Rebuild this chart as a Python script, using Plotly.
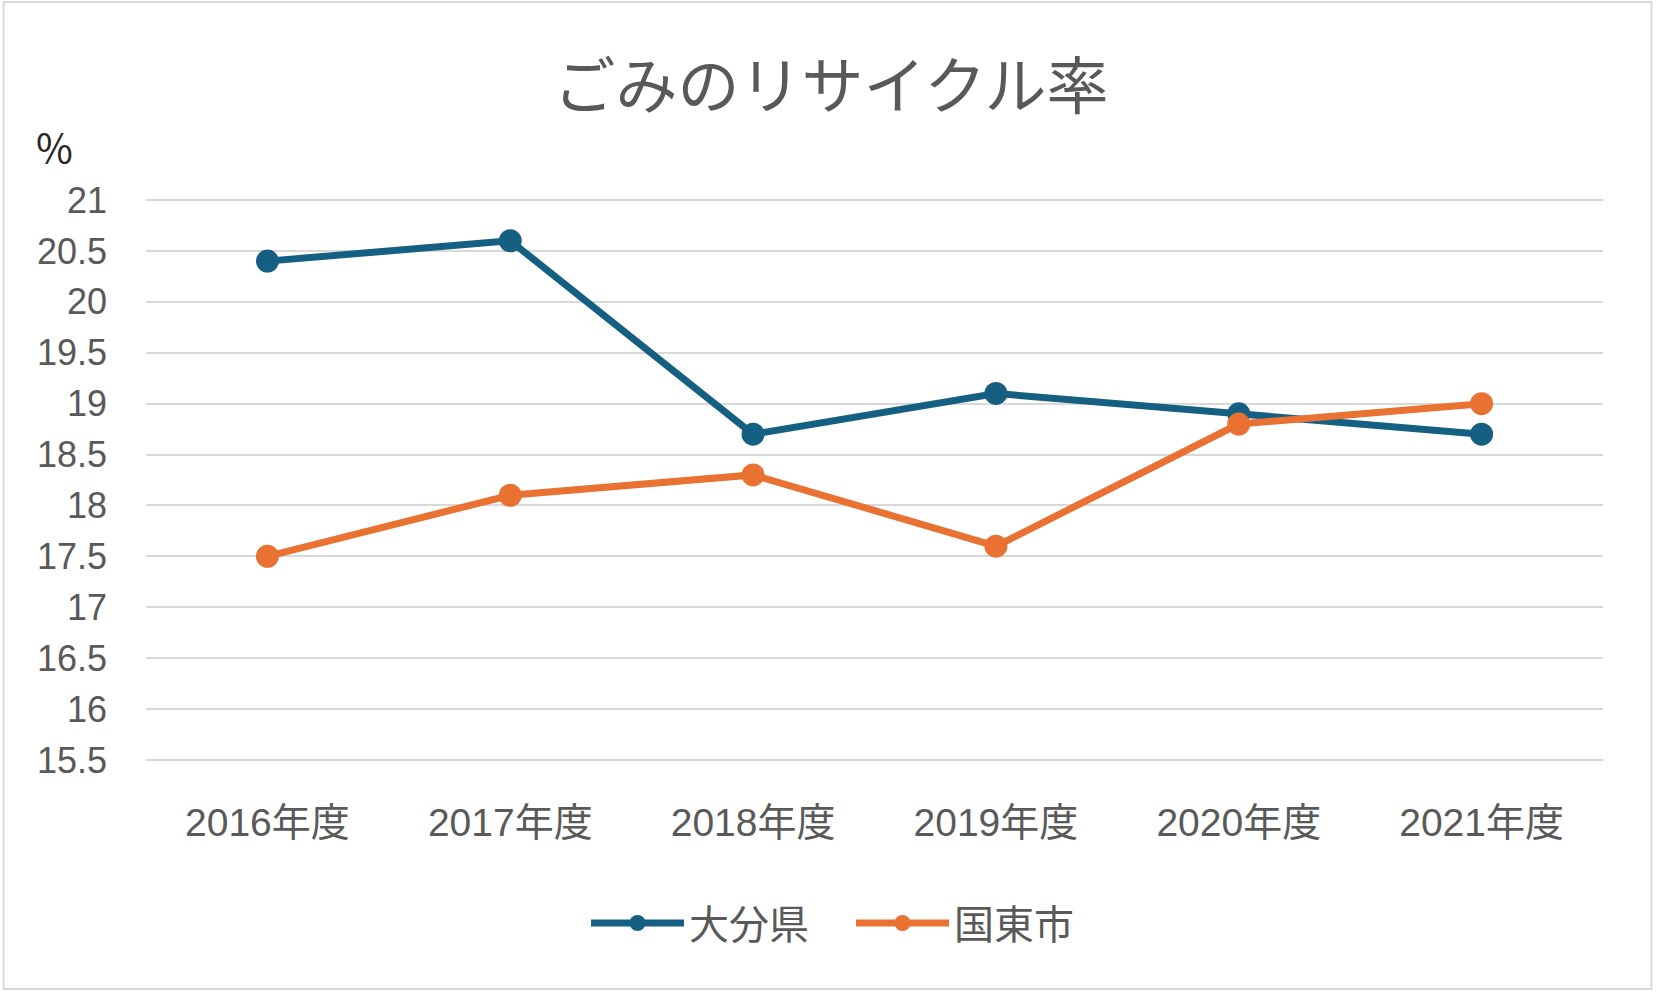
import plotly.graph_objects as go

categories = ["2016年度", "2017年度", "2018年度", "2019年度", "2020年度", "2021年度"]
oita = [20.4, 20.6, 18.7, 19.1, 18.9, 18.7]
kunisaki = [17.5, 18.1, 18.3, 17.6, 18.8, 19.0]
y_ticks = [15.5, 16, 16.5, 17, 17.5, 18, 18.5, 19, 19.5, 20, 20.5, 21]

BLUE = "#156082"
ORANGE = "#E97132"
TXT = "#595959"
FONT = "Liberation Sans, Noto Sans CJK JP"

fig = go.Figure()
fig.add_trace(go.Scatter(x=categories, y=oita, name="大分県", mode="lines+markers",
                         line=dict(color=BLUE, width=7), marker=dict(size=23, color=BLUE)))
fig.add_trace(go.Scatter(x=categories, y=kunisaki, name="国東市", mode="lines+markers",
                         line=dict(color=ORANGE, width=7), marker=dict(size=23, color=ORANGE)))

L, R, T, B = 145.5, 52.5, 198, 231
W, H = 1656, 993
pw, ph = W - L - R, H - T - B

fig.update_layout(
    width=W, height=H,
    margin=dict(l=L, r=R, t=T, b=B, autoexpand=False),
    paper_bgcolor="white", plot_bgcolor="white",
    font=dict(family=FONT, color=TXT, size=30),
    title=dict(text="ごみのリサイクル率", x=831 / W, xanchor="center",
               y=1 - 87 / H, yanchor="middle", yref="container",
               font=dict(family="Noto Sans CJK JP", size=62, color=TXT)),
    showlegend=True,
    legend=dict(orientation="h", x=(851 - L) / pw, xanchor="center",
                y=(H - B - 923) / ph, yanchor="middle",
                font=dict(family="Noto Sans CJK JP", size=40, color=TXT),
                itemwidth=93, entrywidth=157, entrywidthmode="pixels",
                bgcolor="rgba(0,0,0,0)"),
    xaxis=dict(type="category", showgrid=False, showline=False, zeroline=False,
               ticks="", tickfont=dict(size=39, color=TXT), ticklabelstandoff=34,
               range=[-0.5, 5.5]),
    yaxis=dict(range=[15.48, 21.02], tickvals=y_ticks, ticktext=[f"{v:g}" for v in y_ticks],
               showgrid=True, gridcolor="#D9D9D9", gridwidth=2, zeroline=False,
               showline=False, ticks="", tickfont=dict(size=36, color=TXT),
               ticklabelstandoff=38),
    shapes=[dict(type="rect", xref="paper", yref="paper",
                 x0=(3 - L) / pw, x1=(W - 4 - L) / pw,
                 y0=(H - B - (H - 4)) / ph, y1=(H - B - 2) / ph,
                 line=dict(color="#D9D9D9", width=2), fillcolor="rgba(0,0,0,0)", layer="below")],
    annotations=[dict(text="%", xref="paper", yref="paper",
                      x=(54 - L) / pw, y=(H - B - 146) / ph, xanchor="center", yanchor="middle",
                      showarrow=False, font=dict(family="Noto Sans CJK JP", size=40, color="#262626"))],
)

fig.write_html("out.html", config={"displayModeBar": False},
               post_script="document.body.style.margin='0';document.body.style.overflow='hidden';")
